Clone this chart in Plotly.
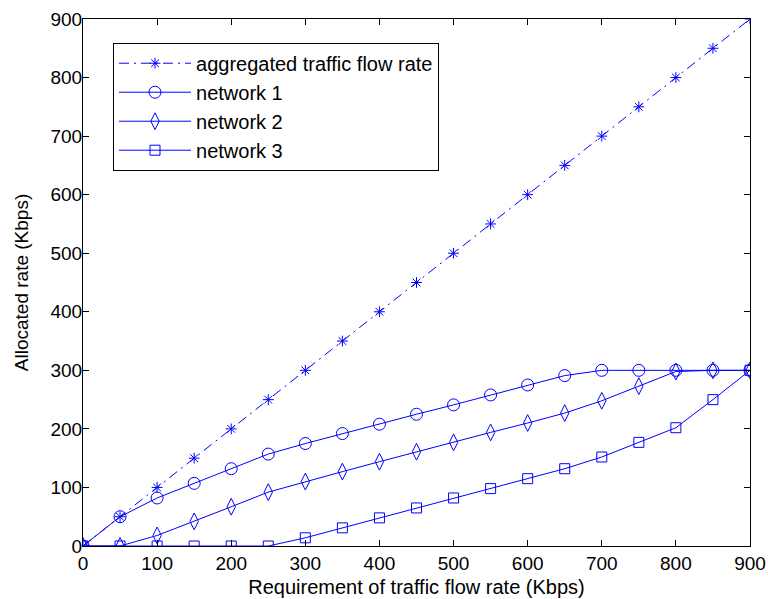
import plotly.graph_objects as go

x_req = [0, 50, 100, 150, 200, 250, 300, 350, 400, 450, 500, 550, 600, 650, 700, 750, 800, 850, 900]
aggregated = [0, 50, 100, 150, 200, 250, 300, 350, 400, 450, 500, 550, 600, 650, 700, 750, 800, 850, 900]
network1 = [0, 50, 82, 107, 132, 157, 175, 192, 208, 225, 241, 258, 275, 291, 300, 300, 300, 300, 300]
network2 = [0, 0, 18, 42, 67, 92, 110, 127, 144, 161, 177, 194, 210, 227, 248, 273, 298, 300, 300]
network3 = [0, 0, 0, 0, 0, 0, 14, 31, 48, 65, 82, 98, 115, 132, 152, 177, 202, 250, 300]
x_ticks = [0, 100, 200, 300, 400, 500, 600, 700, 800, 900]
y_ticks = [0, 100, 200, 300, 400, 500, 600, 700, 800, 900]

FONT = "Liberation Sans, Arial, Helvetica"
blue = "rgb(0,0,255)"
fig = go.Figure()
fig.add_trace(go.Scatter(x=x_req, y=aggregated, name="aggregated traffic flow rate", mode="lines+markers",
                         line=dict(color=blue, width=1, dash="10px,5px,2px,5px"),
                         marker=dict(symbol="asterisk-open", size=9, color=blue, line=dict(color=blue, width=1))))
fig.add_trace(go.Scatter(x=x_req, y=network1, name="network 1", mode="lines+markers",
                         line=dict(color=blue, width=1),
                         marker=dict(symbol="circle-open", size=12, color=blue, line=dict(color=blue, width=1))))
fig.add_trace(go.Scatter(x=x_req, y=network2, name="network 2", mode="lines+markers",
                         line=dict(color=blue, width=1),
                         marker=dict(symbol="diamond-tall-open", size=12, color=blue, line=dict(color=blue, width=1))))
fig.add_trace(go.Scatter(x=x_req, y=network3, name="network 3", mode="lines+markers",
                         line=dict(color=blue, width=1),
                         marker=dict(symbol="square-open", size=10, color=blue, line=dict(color=blue, width=1))))

axis_common = dict(showgrid=False, zeroline=False, showline=True, linecolor="black", linewidth=1,
                   mirror="allticks", ticks="inside", ticklen=6, tickcolor="black", automargin=False,
                   tickfont=dict(family=FONT, size=19, color="black"))
fig.update_xaxes(range=[0, 900], tickvals=x_ticks, ticktext=[str(v) for v in x_ticks],
                 title=dict(text="Requirement of traffic flow rate (Kbps)", standoff=7,
                            font=dict(family=FONT, size=20, color="black")),
                 **axis_common)
fig.update_yaxes(range=[0, 900], tickvals=y_ticks, ticktext=[str(v) for v in y_ticks],
                 ticklabelstandoff=-4,
                 title=dict(text="Allocated rate (Kbps)", standoff=16,
                            font=dict(family=FONT, size=19, color="black")),
                 **axis_common)
fig.update_layout(width=768, height=599, margin=dict(l=83, r=18, t=19, b=53, autoexpand=False),
                  plot_bgcolor="white", paper_bgcolor="white",
                  font=dict(family=FONT, color="black"),
                  legend=dict(x=0.045, y=0.955, xanchor="left", yanchor="top", bgcolor="white",
                              bordercolor="black", borderwidth=1,
                              font=dict(family=FONT, size=20, color="black"),
                              tracegroupgap=0, itemwidth=72),
                  showlegend=True)
fig.write_html("out.html", config={"displayModeBar": False},
               post_script="document.body.style.margin='0';")
